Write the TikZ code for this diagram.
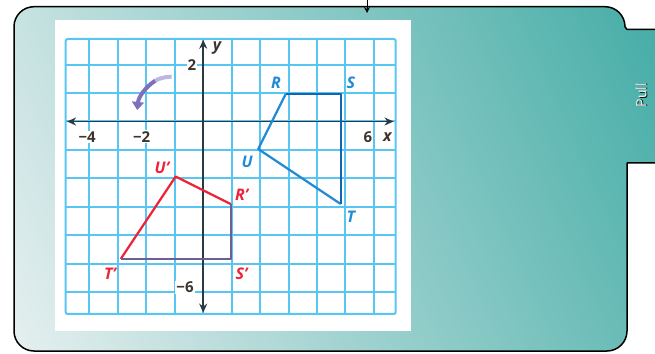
\documentclass[tikz,border=0pt]{standalone}
\usepackage{fontspec}
\setmainfont{Open Sans}
\usepackage{tikz}
\usetikzlibrary{arrows.meta, positioning, calc}
\definecolor{cTealLight}{RGB}{229,239,239}
\definecolor{cTealDark}{RGB}{70,173,167}
\definecolor{cGrid}{RGB}{88,198,243}
\definecolor{cAxis}{RGB}{42,58,68}
\definecolor{cBlue}{RGB}{34,138,212}
\definecolor{cBlueDark}{RGB}{20,100,178}
\definecolor{cRed}{RGB}{236,36,56}
\definecolor{cPurple}{RGB}{110,94,146}
\definecolor{cArc}{RGB}{126,112,188}
\definecolor{cArcLight}{RGB}{190,182,226}
\definecolor{cNum}{RGB}{62,52,44}
\pgfdeclareverticalshading{panelshade}{100bp}{color(0bp)=(cTealLight); color(17bp)=(cTealLight); color(83bp)=(cTealDark); color(100bp)=(cTealDark)}
\tikzset{
	panel/.style    ={draw=black, line width=1.5pt, line join=round},
	% plot styles
	gridline/.style ={cGrid, line width=2pt},
	axisline/.style ={cAxis, line width=1.8pt, {Stealth[length=9pt,width=8pt]}-{Stealth[length=9pt,width=8pt]}},
	quadBlue/.style ={cBlue, line width=2.2pt, line join=round},
	quadRed/.style  ={cRed, line width=2.2pt, line join=round},
	vtx/.style      ={font=\bfseries\itshape\fontsize{16}{16}\selectfont, inner sep=0pt},
	num/.style      ={font=\bfseries\fontsize{15}{15}\selectfont, text=cNum, fill=white, inner sep=1pt},
	turnarrow/.style={cArc, line width=4pt, -{Triangle[length=8pt,width=12pt]}},
	pinarrow/.style ={-{Stealth[length=6pt,width=6pt]}, line width=1pt},
	pulltext/.style ={rotate=90, font=\fontsize{14}{14}\selectfont},
}
\begin{document}
\begin{tikzpicture}[x=1pt, y=1pt]
\useasboundingbox (0,0) rectangle (655,353);
% panel with tab
\shade[shading=panelshade, shading angle=-66]
	(627,190) -- (627,22) arc[start angle=0, end angle=-90, radius=20] -- (34,2)
	arc[start angle=-90, end angle=-180, radius=20] -- (14,326.3)
	arc[start angle=180, end angle=90, radius=20] -- (605,346.3)
	arc[start angle=90, end angle=0, radius=20] -- (627,323.5) -- (655,323.5) -- (655,190) -- cycle;
\draw[panel]
	(655,190) -- (627,190) -- (627,22) arc[start angle=0, end angle=-90, radius=20] -- (34,2)
	arc[start angle=-90, end angle=-180, radius=20] -- (14,326.3)
	arc[start angle=180, end angle=90, radius=20] -- (605,346.3)
	arc[start angle=90, end angle=0, radius=20] -- (627,323.5) -- (655,323.5);
\coordinate (pinTop) at (367,353);
\coordinate (pinEnd) at (367,340);
\draw[pinarrow] (pinTop) -- (pinEnd);
\node[pulltext, text=black] (pullShadow) at (642.1,257.5) {Pull};
\node[pulltext, text=white] (pull) at (641,258) {Pull};
% coordinate plane
\fill[white] (55,22) rectangle (411,333);
\begin{scope}[shift={(203.2pt,231.5pt)}, x=27.5pt, y=27.5pt]
	\draw[gridline] (-5,-7) grid (7,3);
	\draw[gridline, rounded corners=2pt] (-5,-7) rectangle (7,3);
	\node[num] (n2) at (-0.41,2.05) {2};
	\node[num] (nm6) at (-0.66,-6.02) {−6};
	\node[num] (nm4) at (-4.22,-0.56) {−4};
	\node[num] (nm2) at (-2.24,-0.56) {−2};
	\node[num] (n6) at (5.99,-0.56) {6};
	\node[vtx, text=cNum] (xlbl) at (6.7,-0.56) {x};
	\node[vtx, text=cNum] (ylbl) at (0.5,2.66) {y};
	\draw[axisline] (-4.95,0) -- (6.92,0);
	\draw[axisline] (0,-6.95) -- (0,2.97);
	\draw[cArcLight, line width=4pt] (-1.15,1.63) .. controls (-1.45,1.62) and (-1.62,1.56) .. (-1.78,1.46);
	\draw[turnarrow] (-1.75,1.48) .. controls (-2.1,1.25) and (-2.35,0.9) .. (-2.4,0.42);
	% figure and its image
	\coordinate (R) at (3,1);
	\coordinate (S) at (5,1);
	\coordinate (T) at (5,-3);
	\coordinate (U) at (2,-1);
	\coordinate (Rp) at (1,-3);
	\coordinate (Sp) at (1,-5);
	\coordinate (Tp) at (-3,-5);
	\coordinate (Up) at (-1,-2);
	\draw[quadBlue] (T) -- (U) -- (R);
	\draw[quadBlue, cBlueDark] (R) -- (S) -- (T);
	\draw[quadRed] (Tp) -- (Up) -- (Rp);
	\draw[quadRed, cPurple] (Rp) -- (Sp) -- (Tp);
	\node[vtx, text=cBlue] (lblR) at (2.65,1.4) {R};
	\node[vtx, text=cBlue] (lblS) at (5.37,1.4) {S};
	\node[vtx, text=cBlue] (lblT) at (5.37,-3.46) {T};
	\node[vtx, text=cBlue] (lblU) at (1.6,-1.46) {U};
	\node[vtx, text=cRed] (lblRp) at (1.4,-2.67) {R'};
	\node[vtx, text=cRed] (lblSp) at (1.4,-5.52) {S'};
	\node[vtx, text=cRed] (lblTp) at (-3.39,-5.52) {T'};
	\node[vtx, text=cRed] (lblUp) at (-1.5,-1.7) {U'};
\end{scope}
\end{tikzpicture}
\end{document}
